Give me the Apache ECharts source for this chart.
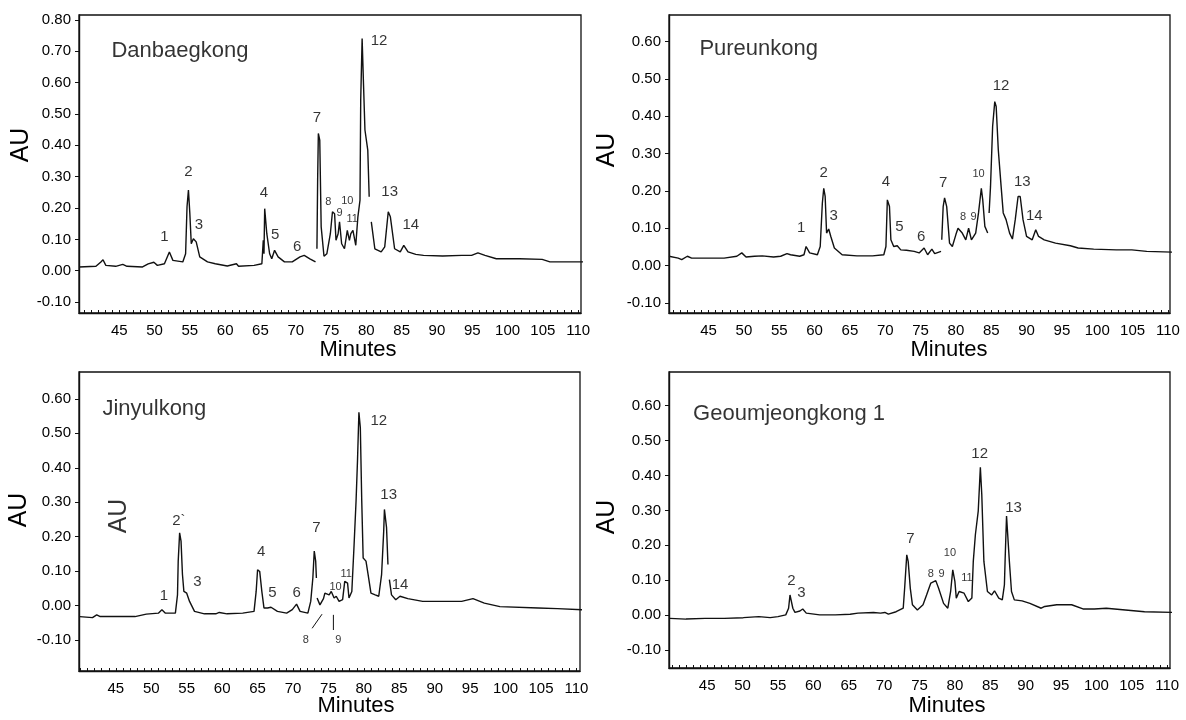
<!DOCTYPE html>
<html>
<head>
<meta charset="utf-8">
<script src="https://cdn.jsdelivr.net/npm/echarts@6/dist/echarts.min.js"></script>
<style>
  html, body { margin: 0; padding: 0; background: #fff; }
  #chart { width: 1186px; height: 720px; }
</style>
</head>
<body>
<div id="chart"></div>
<script>
// tick labels
const xTicks = [45, 50, 55, 60, 65, 70, 75, 80, 85, 90, 95, 100, 105, 110];
const yTicksTop = [-0.1, 0, 0.1, 0.2, 0.3, 0.4, 0.5, 0.6, 0.7, 0.8];
const yTicks = [-0.1, 0, 0.1, 0.2, 0.3, 0.4, 0.5, 0.6];
const xMinor = [];
for (let m = 40; m <= 110; m++) xMinor.push(m);

// chromatograms: [minutes, AU]; null = gap in the trace
const danbaegkong = [
  [39.3, 0.012], [41.7, 0.014], [42.4, 0.028], [42.7, 0.035], [43.1, 0.017], [44.5, 0.014],
  [45.5, 0.020], [46.1, 0.014], [48.3, 0.012], [49.1, 0.022], [49.9, 0.027], [50.4, 0.017],
  [51.4, 0.022], [52.1, 0.060], [52.6, 0.033], [54.0, 0.028], [54.4, 0.054], [54.6, 0.204],
  [54.8, 0.257], [55.0, 0.182], [55.2, 0.086], [55.5, 0.102], [55.9, 0.092], [56.4, 0.044],
  [57.5, 0.028], [58.6, 0.022], [60.3, 0.015], [61.6, 0.022], [61.9, 0.014], [64.1, 0.017],
  [65.2, 0.022], [65.4, 0.097], [65.5, 0.054], [65.6, 0.198], [65.8, 0.195], [65.9, 0.118],
  [66.3, 0.054], [66.6, 0.038], [67.0, 0.065], [67.5, 0.044], [68.4, 0.028], [69.5, 0.028],
  [70.6, 0.044], [71.2, 0.049], [72.0, 0.038], [72.8, 0.028], [72.9, null],
  [73.0, 0.070], [73.1, 0.290], [73.2, 0.438], [73.4, 0.417], [73.6, 0.140], [74.0, 0.046],
  [74.4, 0.054], [74.9, 0.118], [75.2, 0.188], [75.5, 0.182], [75.7, 0.097], [76.0, 0.118],
  [76.2, 0.156], [76.5, 0.086], [76.9, 0.070], [77.3, 0.129], [77.6, 0.097], [77.8, 0.118],
  [78.1, 0.129], [78.5, 0.081], [78.8, 0.172], [79.1, 0.225], [79.2, 0.544], [79.4, 0.741],
  [79.6, 0.592], [79.8, 0.449], [80.2, 0.385], [80.4, 0.236], [80.55, null],
  [80.7, 0.156], [81.2, 0.070], [82.1, 0.060], [82.6, 0.076], [83.1, 0.188], [83.4, 0.172],
  [84.0, 0.070], [84.8, 0.060], [85.3, 0.081], [85.9, 0.060], [87.0, 0.052], [88.1, 0.049],
  [90.8, 0.047], [93.5, 0.049], [94.9, 0.049], [95.8, 0.057], [96.8, 0.049], [98.4, 0.038],
  [101.7, 0.038], [104.9, 0.036], [106.0, 0.028], [110.7, 0.028]
];

const pureunkong = [
  [39.4, 0.025], [40.7, 0.020], [41.2, 0.016], [42.0, 0.025], [42.6, 0.020], [44.5, 0.020],
  [47.2, 0.020], [49.0, 0.025], [49.7, 0.034], [50.3, 0.023], [51.5, 0.025], [52.6, 0.026],
  [54.2, 0.023], [55.2, 0.025], [56.1, 0.032], [56.6, 0.029], [57.9, 0.025], [58.5, 0.029],
  [58.8, 0.051], [59.3, 0.034], [60.4, 0.029], [60.8, 0.051], [61.1, 0.167], [61.3, 0.207],
  [61.5, 0.185], [61.7, 0.087], [62.0, 0.098], [62.3, 0.078], [62.8, 0.047], [63.9, 0.029],
  [66.0, 0.026], [68.2, 0.026], [69.8, 0.029], [70.1, 0.051], [70.3, 0.176], [70.6, 0.158],
  [70.8, 0.069], [71.2, 0.051], [71.7, 0.053], [72.2, 0.042], [73.0, 0.041], [74.1, 0.038],
  [74.8, 0.034], [75.5, 0.047], [76.0, 0.029], [76.6, 0.044], [77.0, 0.032], [77.9, 0.038],
  [77.95, null],
  [78.0, 0.069], [78.2, 0.158], [78.4, 0.181], [78.7, 0.158], [79.1, 0.060], [79.5, 0.051],
  [80.0, 0.083], [80.3, 0.100], [80.9, 0.087], [81.4, 0.069], [81.8, 0.100], [82.2, 0.069],
  [82.8, 0.087], [83.2, 0.141], [83.6, 0.207], [83.8, 0.176], [84.1, 0.105], [84.5, 0.087],
  [84.6, null],
  [84.7, 0.141], [84.9, 0.212], [85.2, 0.373], [85.5, 0.439], [85.7, 0.426], [86.0, 0.310],
  [86.4, 0.212], [86.7, 0.141], [87.1, 0.123], [87.6, 0.087], [88.0, 0.071], [88.4, 0.123],
  [88.8, 0.185], [89.1, 0.185], [89.5, 0.123], [90.0, 0.078], [90.8, 0.069], [91.3, 0.096],
  [91.7, 0.078], [92.5, 0.069], [94.1, 0.060], [96.2, 0.053], [97.3, 0.047], [99.5, 0.044],
  [102.7, 0.042], [104.9, 0.042], [107.0, 0.038], [110.7, 0.036]
];

const jinyulkong = [
  [39.9, -0.032], [41.7, -0.035], [42.3, -0.027], [42.8, -0.032], [45.0, -0.032], [47.7, -0.032],
  [49.3, -0.025], [51.0, -0.022], [51.5, -0.012], [52.0, -0.022], [53.4, -0.022], [53.7, 0.031],
  [53.8, 0.129], [54.0, 0.211], [54.2, 0.187], [54.4, 0.090], [54.6, 0.041], [55.0, 0.036],
  [55.4, 0.012], [56.1, -0.017], [57.5, -0.024], [59.1, -0.024], [59.6, -0.020], [60.7, -0.024],
  [62.9, -0.022], [64.5, -0.017], [64.8, 0.041], [65.0, 0.104], [65.3, 0.099], [65.6, 0.041],
  [65.9, -0.007], [66.4, -0.007], [66.9, -0.005], [67.8, -0.017], [69.1, -0.022], [69.9, -0.012],
  [70.5, 0.004], [71.0, -0.017], [72.1, -0.022], [72.5, 0.012], [72.8, 0.080], [73.0, 0.158],
  [73.2, 0.129], [73.3, 0.080], [73.35, null],
  [73.4, 0.022], [73.8, 0.002], [74.3, 0.020], [74.5, 0.036], [75.1, 0.031], [75.4, 0.041],
  [75.8, 0.022], [76.1, 0.027], [76.5, 0.012], [77.0, 0.017], [77.3, 0.070], [77.7, 0.065],
  [77.9, 0.022], [78.3, 0.041], [78.6, 0.168], [78.9, 0.304], [79.1, 0.420], [79.3, 0.561],
  [79.5, 0.517], [79.7, 0.304], [79.9, 0.138], [80.3, 0.129], [80.6, 0.090], [81.0, 0.036],
  [81.6, 0.031], [82.1, 0.027], [82.5, 0.090], [82.8, 0.216], [82.9, 0.279], [83.2, 0.226],
  [83.4, 0.119], [83.5, null],
  [83.6, 0.075], [83.9, 0.031], [84.5, 0.017], [85.1, 0.027], [86.2, 0.020], [88.3, 0.012],
  [91.0, 0.012], [93.8, 0.012], [95.4, 0.020], [97.0, 0.007], [99.2, -0.003], [104.6, -0.007],
  [107.3, -0.009], [110.8, -0.012]
];

const geoumjeongkong = [
  [39.7, -0.009], [42.0, -0.011], [44.7, -0.009], [47.4, -0.009], [50.1, -0.007], [52.3, -0.004],
  [53.9, -0.007], [55.0, -0.004], [56.1, 0.001], [56.5, 0.020], [56.7, 0.058], [56.9, 0.063],
  [57.1, 0.020], [57.4, 0.008], [58.1, 0.012], [58.5, 0.018], [59.0, 0.006], [60.9, 0.001],
  [63.1, 0.001], [65.2, 0.003], [66.3, 0.006], [68.5, 0.008], [69.5, 0.006], [70.1, 0.008],
  [70.6, 0.003], [71.7, 0.010], [72.7, 0.020], [72.9, 0.077], [73.2, 0.173], [73.4, 0.154],
  [73.7, 0.077], [74.0, 0.030], [74.7, 0.015], [75.5, 0.030], [76.0, 0.058], [76.6, 0.092],
  [77.3, 0.099], [77.7, 0.077], [78.4, 0.034], [79.0, 0.020], [79.4, 0.068], [79.7, 0.130],
  [80.0, 0.097], [80.2, 0.049], [80.6, 0.068], [81.3, 0.063], [81.9, 0.039], [82.4, 0.049],
  [82.6, 0.154], [82.9, 0.231], [83.3, 0.298], [83.6, 0.423], [83.8, 0.346], [84.1, 0.154],
  [84.6, 0.068], [85.2, 0.058], [85.6, 0.070], [86.2, 0.049], [86.7, 0.044], [87.0, 0.087],
  [87.1, 0.159], [87.3, 0.284], [87.5, 0.279], [87.7, 0.154], [88.0, 0.068], [88.4, 0.044],
  [89.5, 0.041], [90.6, 0.034], [92.2, 0.020], [92.7, 0.025], [94.4, 0.030], [96.5, 0.030],
  [98.1, 0.018], [99.7, 0.018], [101.4, 0.020], [104.1, 0.015], [106.8, 0.010], [111.0, 0.008]
];

// peak labels: [text, minutes, AU, small?]
const danLabels = [
  ['1', 51.4, 0.108], ['2', 54.8, 0.316], ['3', 56.3, 0.145], ['4', 65.5, 0.249],
  ['5', 67.1, 0.113], ['6', 70.2, 0.076], ['7', 73.0, 0.489], ['8', 74.6, 0.220, 1],
  ['9', 76.2, 0.184, 1], ['10', 77.3, 0.222, 1], ['11', 78.0, 0.166, 1], ['12', 81.8, 0.733],
  ['13', 83.3, 0.252], ['14', 86.3, 0.145]
];
const pureLabels = [
  ['1', 58.1, 0.102], ['2', 61.3, 0.249], ['3', 62.7, 0.133], ['4', 70.1, 0.225],
  ['5', 72.0, 0.105], ['6', 75.1, 0.078], ['7', 78.2, 0.221], ['8', 81.0, 0.130, 1],
  ['9', 82.5, 0.130, 1], ['10', 83.2, 0.246, 1], ['12', 86.4, 0.481], ['13', 89.4, 0.225],
  ['14', 91.1, 0.133]
];
const jinLabels = [
  ['1', 51.8, 0.027], ['2`', 53.9, 0.247], ['3', 56.5, 0.068], ['4', 65.5, 0.156],
  ['5', 67.1, 0.036], ['6', 70.5, 0.036], ['7', 73.3, 0.226], ['8', 71.8, -0.100, 1],
  ['9', 76.4, -0.100, 1], ['10', 76.0, 0.054, 1], ['11', 77.5, 0.093, 1], ['12', 82.1, 0.537],
  ['13', 83.5, 0.320], ['14', 85.1, 0.061]
];
const geoLabels = [
  ['2', 56.9, 0.097], ['3', 58.3, 0.063], ['7', 73.7, 0.219], ['8', 76.6, 0.118, 1],
  ['9', 78.1, 0.118, 1], ['10', 79.3, 0.178, 1], ['11', 81.7, 0.106, 1], ['12', 83.5, 0.461],
  ['13', 88.3, 0.308]
];
// leader lines for peaks 8 and 9 in Jinyulkong
const jinLeaders = [[72.7, -0.066], [74.1, -0.025], [74.5, null], [75.7, -0.071], [75.7, -0.027]];

const FONT = '"Liberation Sans", Arial, sans-serif';
const INK = '#111';

const panels = [
  { title: 'Danbaegkong', titlePos: [43.9, 0.70], trace: danbaegkong, labels: danLabels, yTicks: yTicksTop,
    grid: { left: 79, top: 15, width: 502, height: 298 }, x: [39.3, 110.4], y: [-0.135, 0.816],
    au: [21, 145], minutes: [358, 350] },
  { title: 'Pureunkong', titlePos: [43.7, 0.579], trace: pureunkong, labels: pureLabels, yTicks: yTicks,
    grid: { left: 669, top: 15, width: 501, height: 298 }, x: [39.4, 110.3], y: [-0.127, 0.671],
    au: [607, 150], minutes: [949, 350] },
  { title: 'Jinyulkong', titlePos: [43.1, 0.571], trace: jinyulkong, labels: jinLabels, yTicks: yTicks,
    grid: { left: 79, top: 372, width: 501, height: 299 }, x: [39.8, 110.5], y: [-0.19, 0.678],
    au: [19, 510], minutes: [356, 706] },
  { title: 'Geoumjeongkong 1', titlePos: [43.0, 0.576], trace: geoumjeongkong, labels: geoLabels, yTicks: yTicks,
    grid: { left: 669, top: 372, width: 501, height: 296 }, x: [39.6, 110.4], y: [-0.151, 0.696],
    au: [607, 517], minutes: [947, 706] }
];

const fix = arr => arr.map(p => [p[0], p[1] === null ? '-' : p[1]]);

const grids = [], xAxes = [], yAxes = [], series = [], graphics = [];

panels.forEach((p, i) => {
  grids.push({ ...p.grid, show: true, borderColor: INK, borderWidth: 1.3, backgroundColor: 'transparent' });

  xAxes.push({
    type: 'value', gridIndex: i, min: p.x[0], max: p.x[1],
    axisLine: { show: true, onZero: false, lineStyle: { color: INK, width: 1.4 } },
    axisTick: { show: true, inside: true, length: 3, customValues: xMinor, lineStyle: { color: INK } },
    axisLabel: { customValues: xTicks, color: '#000', fontSize: 15, fontFamily: FONT, margin: 10 },
    splitLine: { show: false }
  });

  yAxes.push({
    type: 'value', gridIndex: i, min: p.y[0], max: p.y[1],
    axisLine: { show: true, onZero: false, lineStyle: { color: INK, width: 1.4 } },
    axisTick: { show: true, inside: false, length: 4, customValues: p.yTicks, lineStyle: { color: INK } },
    axisLabel: { customValues: p.yTicks, formatter: v => v.toFixed(2), color: '#000',
                 fontSize: 15, fontFamily: FONT, margin: 8 },
    splitLine: { show: false }
  });

  series.push({
    type: 'line', xAxisIndex: i, yAxisIndex: i, data: fix(p.trace),
    symbol: 'none', connectNulls: false, animation: false,
    lineStyle: { color: INK, width: 1.4 }
  });

  const labelData = p.labels.map(l => ({
    name: l[0], value: [l[1], l[2]],
    label: { fontSize: l[3] ? 11 : 15 }
  }));
  labelData.push({
    name: p.title, value: p.titlePos,
    label: { fontSize: 22, align: 'left' }
  });
  if (i === 2) {
    labelData.push({ name: 'AU', value: [45.5, 0.26], label: { fontSize: 25, rotate: 90 } });
  }
  series.push({
    type: 'scatter', xAxisIndex: i, yAxisIndex: i, data: labelData,
    symbolSize: 1, itemStyle: { color: 'transparent' }, animation: false, silent: true,
    label: { show: true, position: 'inside', formatter: '{b}', color: '#000', fontFamily: FONT }
  });

  if (i === 2) {
    series.push({
      type: 'line', xAxisIndex: i, yAxisIndex: i, data: fix(jinLeaders),
      symbol: 'none', connectNulls: false, animation: false,
      lineStyle: { color: INK, width: 1 }
    });
  }

  graphics.push({
    type: 'text', x: p.au[0], y: p.au[1], rotation: Math.PI / 2,
    style: { text: 'AU', font: '25px ' + FONT, fill: '#000', textAlign: 'center', textVerticalAlign: 'middle' }
  });
  graphics.push({
    type: 'text', x: p.minutes[0], y: p.minutes[1],
    style: { text: 'Minutes', font: '22px ' + FONT, fill: '#000', textAlign: 'center', textVerticalAlign: 'middle' }
  });
});

const chart = echarts.init(document.getElementById('chart'));
chart.setOption({
  backgroundColor: '#fff',
  animation: false,
  grid: grids,
  xAxis: xAxes,
  yAxis: yAxes,
  series: series,
  graphic: graphics
});
</script>
</body>
</html>
